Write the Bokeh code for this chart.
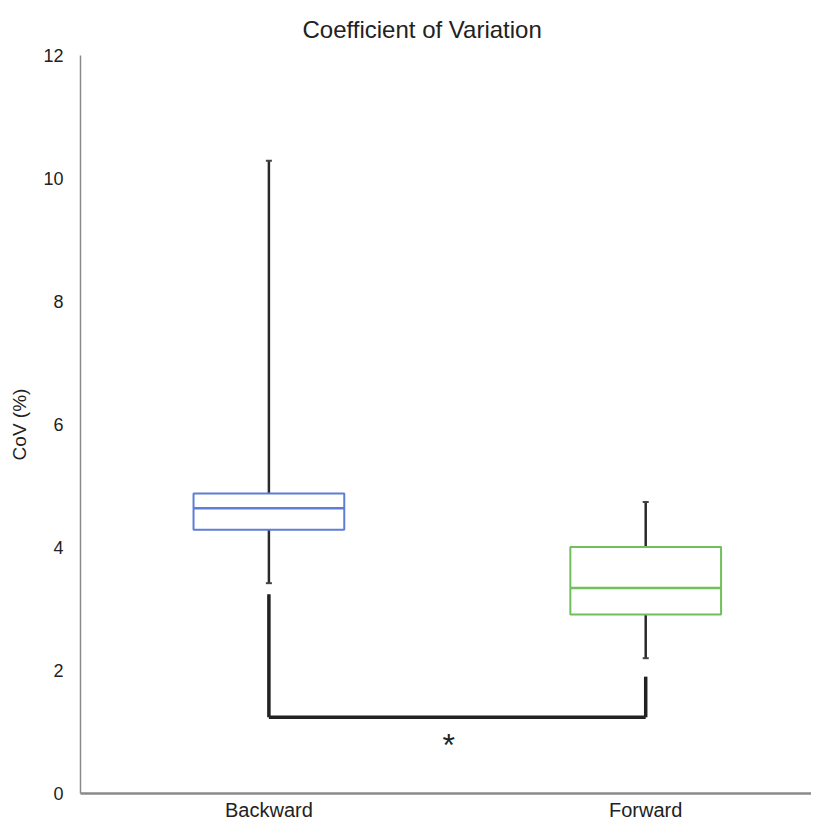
from bokeh.plotting import figure
from bokeh.models import Range1d, ColumnDataSource, Title, FixedTicker
from bokeh.transform import dodge
from bokeh.core.properties import value
from bokeh.embed import file_html
from bokeh.resources import INLINE

# ---- data ----
categories = ["Backward", "Forward"]
q1 = [4.29, 2.91]
median = [4.64, 3.34]
q3 = [4.88, 4.01]
lower = [3.42, 2.20]
upper = [10.29, 4.74]
box_colors = ["#5f7dd6", "#6fc05a"]

# significance bracket
bracket_y = 1.24
bracket_start = [3.24, 1.90]
star_label = "*"

y_ticks = [0, 2, 4, 6, 8, 10, 12]

FONT = "Liberation Sans"

# category slots on the x axis (slot centres at 0.5, 1.5, ...)
x_pos = [i + 0.5 for i in range(len(categories))]

p = figure(
    x_range=Range1d(0, 1.94),
    y_range=Range1d(0, 12),
    width=811, height=823,
    output_backend="svg", toolbar_location=None,
    min_border_left=80, min_border_right=0,
    min_border_top=55, min_border_bottom=27,
)
p.title = Title(text="Coefficient of Variation", align="left", offset=222,
                text_font=FONT, text_font_size="24px", text_font_style="normal",
                text_color="#222222", standoff=25)
p.outline_line_color = None
p.xgrid.grid_line_color = None
p.ygrid.grid_line_color = None
p.background_fill_color = "white"
p.border_fill_color = "white"

# axes
p.yaxis.ticker = y_ticks
p.xaxis.ticker = FixedTicker(ticks=x_pos)
p.xaxis.major_label_overrides = {x: c for x, c in zip(x_pos, categories)}
p.yaxis.axis_label = "CoV (%)"
p.yaxis.axis_label_text_font = FONT
p.yaxis.axis_label_text_font_size = "19px"
p.yaxis.axis_label_text_font_style = "normal"
p.yaxis.axis_label_text_color = "#222222"
p.yaxis.axis_label_standoff = 10
for ax in (p.xaxis[0], p.yaxis[0]):
    ax.major_tick_out = 0
    ax.major_tick_in = 0
    ax.minor_tick_out = 0
    ax.minor_tick_in = 0
    ax.major_label_text_font = FONT
    ax.major_label_text_color = "#222222"
    ax.axis_line_color = "#8a8a8a"
p.yaxis.major_label_text_font_size = "18px"
p.yaxis.major_label_standoff = 17
p.yaxis.axis_line_width = 1.5
p.xaxis.major_label_text_font_size = "20px"
p.xaxis.major_label_standoff = 5
p.xaxis.axis_line_width = 2.5

src = ColumnDataSource(dict(x=x_pos, q1=q1, med=median, q3=q3,
                            lo=lower, hi=upper, color=box_colors,
                            bstart=bracket_start,
                            by=[bracket_y] * len(categories)))

BW = 0.40
# whiskers
p.segment(x0="x", y0="q3", x1="x", y1="hi", source=src,
          line_color="#2a2a2a", line_width=2.5)
p.segment(x0="x", y0="q1", x1="x", y1="lo", source=src,
          line_color="#2a2a2a", line_width=2.5)
# whisker caps
for col in ("hi", "lo"):
    p.segment(x0=dodge("x", -0.008), y0=col, x1=dodge("x", 0.008), y1=col,
              source=src, line_color="#444444", line_width=2)

# boxes
p.vbar(x="x", top="q3", bottom="q1", width=BW, source=src,
       fill_color="white", line_color="color", line_width=2)
# medians
p.segment(x0=dodge("x", -BW / 2), y0="med", x1=dodge("x", BW / 2), y1="med",
          source=src, line_color="color", line_width=2.5)

# significance bracket
p.segment(x0="x", y0="bstart", x1="x", y1="by", source=src,
          line_color="#222222", line_width=3.5)
p.segment(x0=[x_pos[0]], y0=[bracket_y], x1=[x_pos[1]], y1=[bracket_y],
          line_color="#222222", line_width=3.5)
star_src = ColumnDataSource(dict(x=[x_pos[0]], y=[bracket_y], text=[star_label]))
p.text(x=dodge("x", 0.477), y="y", text="text", source=star_src,
       y_offset=28, text_align="center", text_baseline="middle",
       text_font=value(FONT), text_font_size="32px", text_color="#222222")

open("out.html", "w").write(file_html(p, INLINE))
